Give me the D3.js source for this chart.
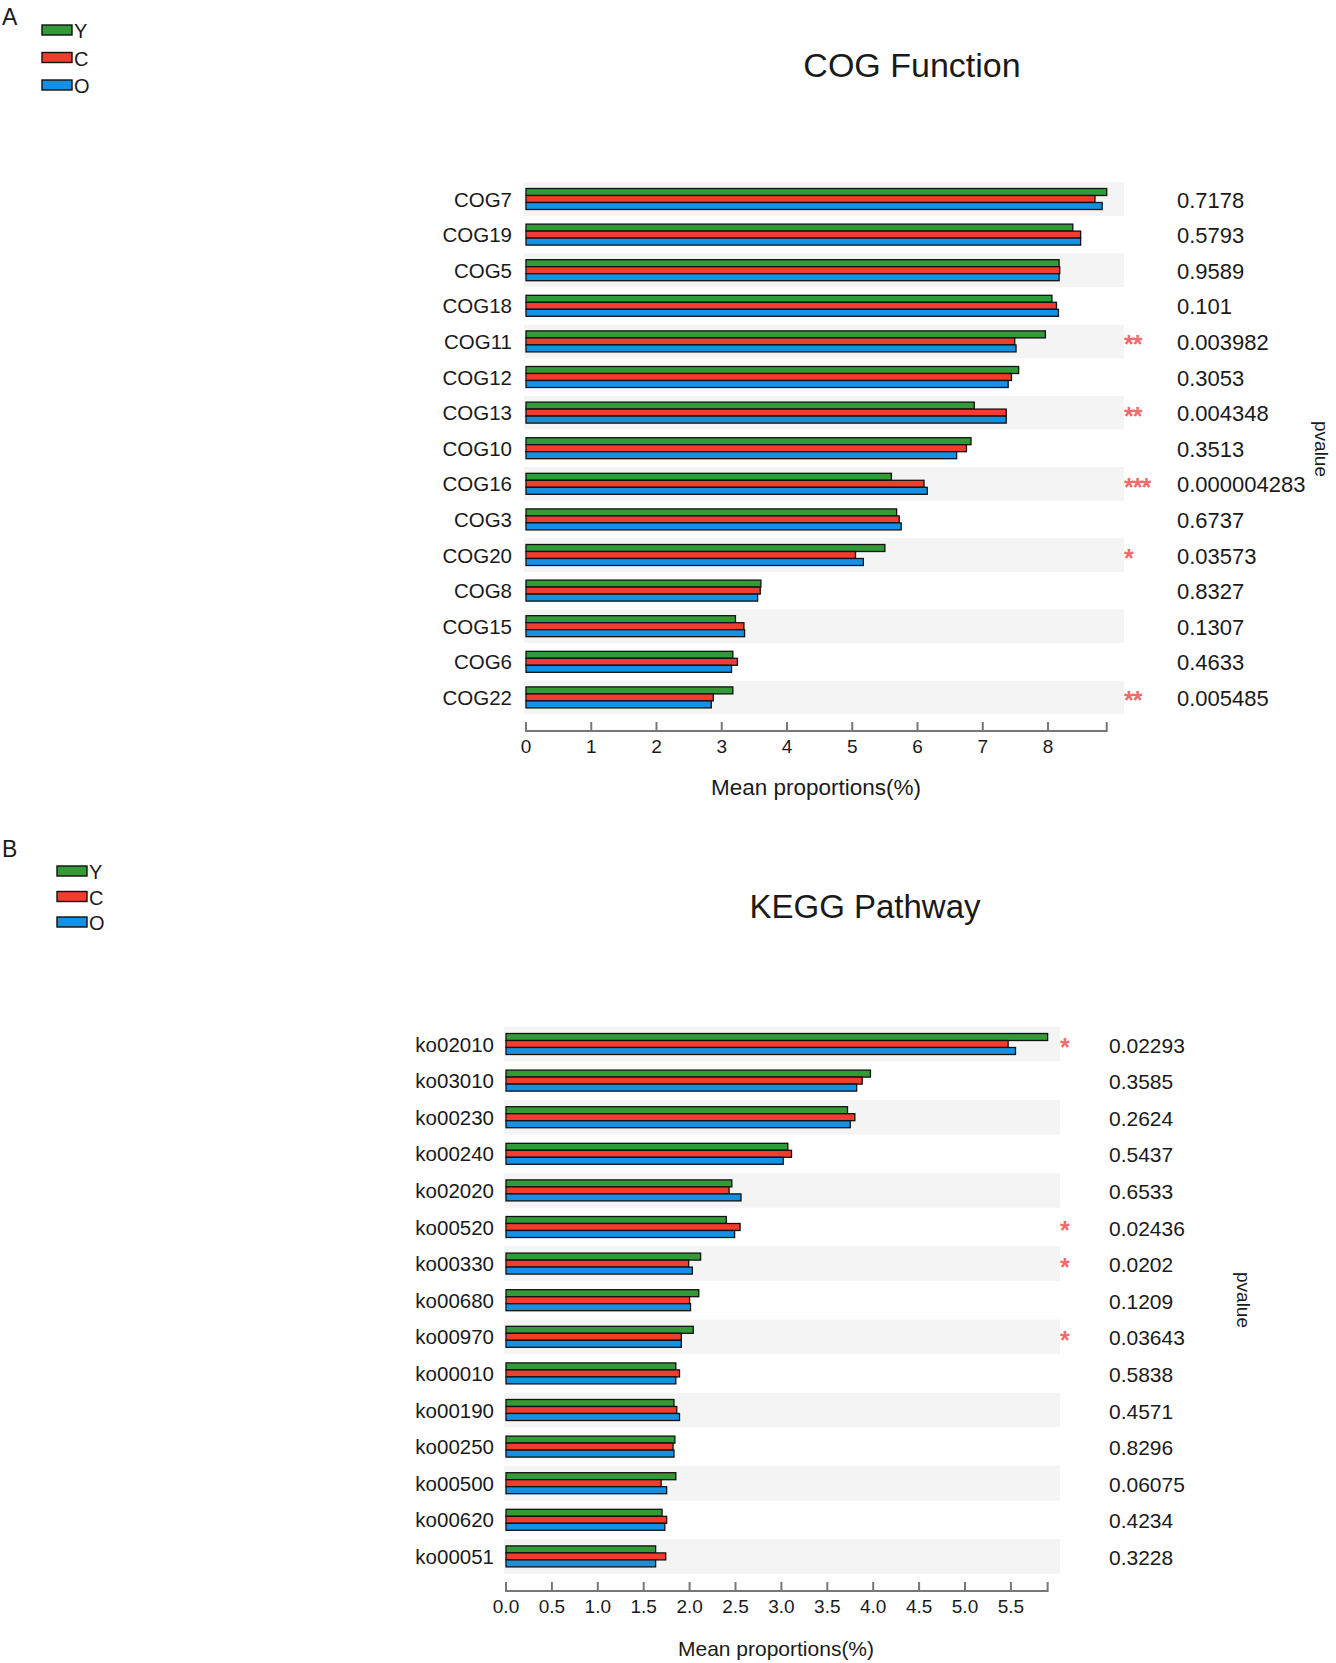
<!DOCTYPE html>
<html><head><meta charset="utf-8">
<script src="https://cdn.jsdelivr.net/npm/d3@7"></script>
<style>body{margin:0;background:#fff}svg{display:block}text{font-family:"Liberation Sans",Arial,sans-serif;fill:#1a1a1a}</style>
</head><body>
<script>
const groups = ["Y","C","O"];
const groupColors = ["#339a38","#f23d2e","#1690e2"];

const cogCategories = ["COG7","COG19","COG5","COG18","COG11","COG12","COG13","COG10","COG16","COG3","COG20","COG8","COG15","COG6","COG22"];
const cogY = [8.90,8.38,8.17,8.06,7.96,7.55,6.87,6.82,5.60,5.68,5.50,3.60,3.21,3.17,3.17];
const cogC = [8.72,8.50,8.18,8.13,7.49,7.44,7.36,6.75,6.10,5.72,5.05,3.59,3.34,3.24,2.87];
const cogO = [8.83,8.50,8.17,8.16,7.51,7.39,7.36,6.60,6.15,5.75,5.17,3.55,3.35,3.15,2.84];
const cogP = ["0.7178","0.5793","0.9589","0.101","0.003982","0.3053","0.004348","0.3513","0.000004283","0.6737","0.03573","0.8327","0.1307","0.4633","0.005485"];
const cogStars = ["","","","","**","","**","","***","","*","","","","**"];
const cogTicks = [0,1,2,3,4,5,6,7,8];

const keggCategories = ["ko02010","ko03010","ko00230","ko00240","ko02020","ko00520","ko00330","ko00680","ko00970","ko00010","ko00190","ko00250","ko00500","ko00620","ko00051"];
const keggY = [5.90,3.97,3.72,3.07,2.46,2.40,2.12,2.10,2.04,1.85,1.83,1.84,1.85,1.70,1.63];
const keggC = [5.47,3.88,3.80,3.11,2.43,2.55,1.99,2.00,1.91,1.89,1.86,1.82,1.69,1.75,1.74];
const keggO = [5.55,3.82,3.75,3.02,2.56,2.49,2.03,2.01,1.91,1.85,1.89,1.83,1.75,1.73,1.63];
const keggP = ["0.02293","0.3585","0.2624","0.5437","0.6533","0.02436","0.0202","0.1209","0.03643","0.5838","0.4571","0.8296","0.06075","0.4234","0.3228"];
const keggStars = ["*","","","","","*","*","","*","","","","","",""];
const keggTicks = [0,0.5,1,1.5,2,2.5,3,3.5,4,4.5,5,5.5];

const W = 1336, H = 1663;
const svg = d3.select("body").append("svg").attr("width", W).attr("height", H);

function panel(cfg) {
  const g = svg.append("g");
  g.append("text").attr("x", cfg.letterX).attr("y", cfg.letterY).attr("font-size", 23).text(cfg.letter);
  groups.forEach((name, i) => {
    const ly = cfg.legY + i * cfg.legStep;
    g.append("rect").attr("x", cfg.legX).attr("y", ly).attr("width", 30).attr("height", 10)
      .attr("fill", groupColors[i]).attr("stroke", "#111").attr("stroke-width", 1.4);
    g.append("text").attr("x", cfg.legX + 32).attr("y", ly + 6).attr("dominant-baseline", "central")
      .attr("font-size", 20).text(name);
  });
  g.append("text").attr("x", cfg.titleX).attr("y", cfg.titleY).attr("text-anchor", "middle")
    .attr("font-size", cfg.titleSize).text(cfg.title);

  const maxV = d3.max([...cfg.a, ...cfg.b, ...cfg.c]);
  const x = d3.scaleLinear().domain([0, maxV]).range([cfg.x0, cfg.x0 + maxV * cfg.unit]);
  const y = d3.scaleBand().domain(cfg.cats).range([cfg.yTop, cfg.yTop + cfg.cats.length * cfg.step]).padding(0);
  const inner = d3.scaleBand().domain(groups).range([0, 21]).padding(0);

  g.selectAll(".band").data(cfg.cats.filter((d, i) => i % 2 === 0)).join("rect")
    .attr("x", cfg.x0 - 2).attr("width", cfg.bandEnd - cfg.x0 + 2)
    .attr("y", d => y(d) + 1).attr("height", y.bandwidth() - 2).attr("fill", "#f4f4f4");

  const series = [cfg.a, cfg.b, cfg.c];
  cfg.cats.forEach((cat, i) => {
    const cy = y(cat) + y.bandwidth() / 2;
    series.forEach((vals, k) => {
      g.append("rect").attr("x", x(0)).attr("y", cy - 10.5 + inner(groups[k]))
        .attr("width", x(vals[i]) - x(0)).attr("height", inner.bandwidth())
        .attr("fill", groupColors[k]).attr("stroke", "#111").attr("stroke-width", 1.3);
    });
    g.append("text").attr("x", cfg.labelX).attr("y", cy).attr("text-anchor", "end")
      .attr("dominant-baseline", "central").attr("font-size", 20.5).text(cat);
    g.append("text").attr("x", cfg.pX).attr("y", cy + 1).attr("dominant-baseline", "central")
      .attr("font-size", cfg.pSize).text(cfg.p[i]);
    if (cfg.stars[i]) {
      g.append("text").attr("x", cfg.starX).attr("y", cy + 3).attr("dominant-baseline", "central")
        .attr("font-size", 25).attr("font-weight", "bold").style("fill", "#f26a6a")
        .attr("letter-spacing", -1).text(cfg.stars[i]);
    }
  });

  const axisG = g.append("g").attr("transform", `translate(0,${cfg.axisY})`);
  axisG.append("line").attr("x1", x(0)).attr("x2", x(maxV)).attr("stroke", "#777").attr("stroke-width", 2);
  const tickVals = [...cfg.ticks, maxV];
  axisG.selectAll(".tk").data(tickVals).join("line")
    .attr("x1", d => x(d)).attr("x2", d => x(d)).attr("y1", -9).attr("y2", 1)
    .attr("stroke", "#777").attr("stroke-width", 2);
  axisG.selectAll(".tl").data(cfg.ticks).join("text")
    .attr("x", d => x(d)).attr("y", cfg.tickLabelDy).attr("text-anchor", "middle")
    .attr("dominant-baseline", "central").attr("font-size", 19).text(cfg.fmt);
  g.append("text").attr("x", cfg.axTitleX).attr("y", cfg.axTitleY).attr("text-anchor", "middle")
    .attr("dominant-baseline", "central").attr("font-size", cfg.axTitleSize).text("Mean proportions(%)");
  g.append("text").attr("transform", `translate(${cfg.pvX},${cfg.pvY}) rotate(90)`)
    .attr("text-anchor", "middle").attr("dominant-baseline", "central").attr("font-size", 19).text("pvalue");
}

panel({
  letter: "A", letterX: 2, letterY: 25,
  legX: 42, legY: 25, legStep: 27.5,
  title: "COG Function", titleX: 912, titleY: 77, titleSize: 34,
  cats: cogCategories, a: cogY, b: cogC, c: cogO, p: cogP, stars: cogStars, ticks: cogTicks,
  x0: 526, unit: 65.25, yTop: 181.2, step: 35.6, bandEnd: 1124,
  labelX: 512, pX: 1177, pSize: 22, starX: 1124,
  axisY: 731, tickLabelDy: 15, fmt: d3.format("d"),
  axTitleX: 816, axTitleY: 787, axTitleSize: 22.5,
  pvX: 1321, pvY: 449
});

panel({
  letter: "B", letterX: 2, letterY: 857,
  legX: 57, legY: 866, legStep: 25.5,
  title: "KEGG Pathway", titleX: 865, titleY: 918, titleSize: 33,
  cats: keggCategories, a: keggY, b: keggC, c: keggO, p: keggP, stars: keggStars, ticks: keggTicks,
  x0: 506, unit: 91.8, yTop: 1025.7, step: 36.6, bandEnd: 1060,
  labelX: 494, pX: 1109, pSize: 21, starX: 1060,
  axisY: 1591, tickLabelDy: 15, fmt: d3.format(".1f"),
  axTitleX: 776, axTitleY: 1648, axTitleSize: 21,
  pvX: 1243, pvY: 1300
});
</script>
</body></html>
